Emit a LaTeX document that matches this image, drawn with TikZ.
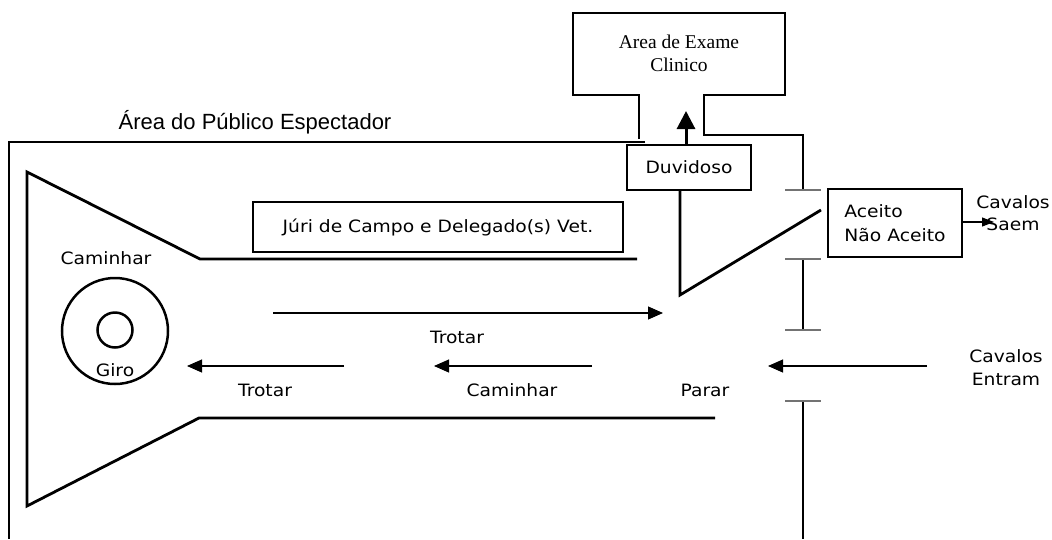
\documentclass[tikz,border=0pt]{standalone}
\usepackage{fontspec}
\usetikzlibrary{arrows.meta}
\newfontfamily\comicf[FakeStretch=1.1]{DejaVu Sans}
\newfontfamily\arialf{Liberation Sans}
\newfontfamily\timesf{Liberation Serif}
\tikzset{
  thinline/.style={line width=1.1pt,black},
  thickline/.style={line width=2.8pt,black,line join=miter},
  tickline/.style={line width=1.3pt,black!55},
  boxnode/.style={draw,line width=1.1pt,rectangle,inner sep=0pt,font=\comicf\fontsize{17}{20}\selectfont},
  lbl/.style={font=\comicf\fontsize{17}{20}\selectfont,inner sep=0pt,align=center},
  flowarrow/.style={thinline,-{Triangle[length=15pt,width=13pt]}},
  smallarrow/.style={thinline,-{Triangle[length=12pt,width=9pt]}},
  bigarrow/.style={line width=3pt,-{Triangle[length=18pt,width=18pt]}}
}
\begin{document}
\begin{tikzpicture}[x=1pt,y=-1pt]
\useasboundingbox[fill=white] (0,0) rectangle (1052,539);

% title
\node[font=\arialf\fontsize{22}{26}\selectfont,inner sep=0pt,anchor=base] (title) at (255,129) {Área do Público Espectador};

% clinical exam area
\node[font=\timesf\fontsize{19.5}{23}\selectfont,align=center,inner sep=0pt] (exame) at (679,53) {Area de Exame\\Clinico};
\draw[thinline] (639,139) -- (639,95) -- (573,95) -- (573,13) -- (785,13) -- (785,95) -- (704,95) -- (704,135) -- (803,135) -- (803,190);

% outer enclosure
\draw[thinline] (645,142) -- (9,142) -- (9,539);
\draw[thinline] (803,259) -- (803,330);
\draw[thinline] (803,401) -- (803,539);
\draw[tickline] (785,190) -- (821,190);
\draw[tickline] (785,259) -- (821,259);
\draw[tickline] (785,330) -- (821,330);
\draw[tickline] (785,401) -- (821,401);

% Duvidoso
\node[boxnode,minimum width=124pt,minimum height=45pt] (duv) at (689,167.5) {Duvidoso};
\coordinate (duvtip) at (686,111);
\draw[bigarrow] (duv.north -| duvtip) -- (duvtip);
\coordinate (vtip) at (680,295);
\coordinate (vend) at (821,210);
\draw[thickline] (duv.south -| vtip) -- (vtip) -- (vend);

% Aceito
\node[boxnode,minimum width=134pt,minimum height=68pt,align=left] (aceito) at (895,223) {Aceito\\[4pt]Não Aceito};
\node[lbl] (saem) at (1013,213) {Cavalos\\[2pt]Saem};
\coordinate (saemtip) at (994,222);
\draw[smallarrow] (aceito.east |- saemtip) -- (saemtip);

% entrada
\node[lbl] (entram) at (1006,368) {Cavalos\\[3pt]Entram};
\coordinate (entstart) at (927,366);
\coordinate (enttip) at (768,366);
\draw[flowarrow] (entstart) -- (enttip);

% funnel
\draw[thickline] (637,259) -- (200,259) -- (27,172) -- (27,506) -- (199,418) -- (715,418);

% Juri
\node[boxnode,minimum width=370pt,minimum height=50pt] (juri) at (438,227) {Júri de Campo e Delegado(s) Vet.};

% circles
\node[draw,circle,line width=2.5pt,minimum size=106pt,inner sep=0pt] (giroout) at (115,331) {};
\node[draw,circle,line width=2.5pt,minimum size=35pt,inner sep=0pt] (giroin) at (115,330) {};
\node[lbl,anchor=base] (giro) at (115,376) {Giro};
\node[lbl,anchor=base] (caminharA) at (106,264) {Caminhar};

% top arrow
\coordinate (t1s) at (273,313);
\coordinate (t1e) at (663,313);
\draw[flowarrow] (t1s) -- (t1e);
\node[lbl,anchor=base] (trotarA) at (457,343) {Trotar};

% bottom arrows
\coordinate (b1s) at (344,366);
\coordinate (b1e) at (187,366);
\draw[flowarrow] (b1s) -- (b1e);
\coordinate (b2s) at (592,366);
\coordinate (b2e) at (434,366);
\draw[flowarrow] (b2s) -- (b2e);
\node[lbl,anchor=base] (trotarB) at (265,396) {Trotar};
\node[lbl,anchor=base] (caminharB) at (512,396) {Caminhar};
\node[lbl,anchor=base] (parar) at (705,396) {Parar};
\end{tikzpicture}
\end{document}
